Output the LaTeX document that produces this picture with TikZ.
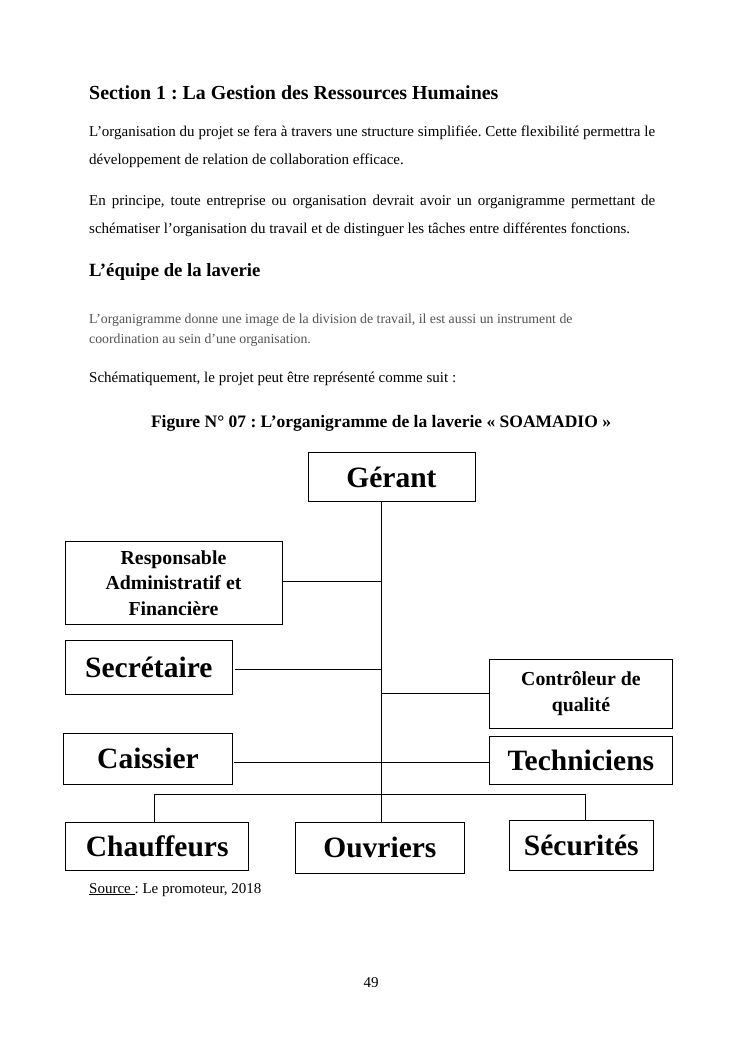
\documentclass[tikz,border=0pt]{standalone}
\usepackage{fontspec}
\setmainfont{Liberation Serif}
\frenchspacing
\begin{document}
\begin{tikzpicture}[x=1pt,y=-1pt,
  box/.style={draw, line width=0.9pt, inner sep=0pt, align=center,
    font=\bfseries\fontsize{29.5}{33}\selectfont},
  sbox/.style={box, font=\bfseries\fontsize{19.8}{25.5}\selectfont},
  conn/.style={line width=0.9pt},
  txt/.style={anchor=base west, inner sep=0pt},
  body/.style={txt, font=\fontsize{15}{18}\selectfont},
  graytxt/.style={txt, font=\fontsize{13.8}{16}\selectfont, text=black!68}]
\fill[white] (0,0) rectangle (745,1053);
\useasboundingbox (0,0) rectangle (745,1053);

% texts
\node[txt, font=\bfseries\fontsize{19.9}{24}\selectfont] (h1) at (89,99) {Section 1 : La Gestion des Ressources Humaines};
\node[body] (p1a) at (89,136) {\hbox to 566pt{L’organisation du projet se fera à travers une structure simplifiée. Cette flexibilité permettra le}};
\node[body] (p1b) at (89,164) {développement de relation de collaboration efficace.};
\node[body] (p2a) at (89,205) {\hbox to 566pt{En principe, toute entreprise ou organisation devrait avoir un organigramme permettant de}};
\node[body] (p2b) at (89,233) {schématiser l’organisation du travail et de distinguer les tâches entre différentes fonctions.};
\node[txt, font=\bfseries\fontsize{18.7}{22}\selectfont] (h2) at (89,276) {L’équipe de la laverie};
\node[graytxt] (g1) at (89,323) {L’organigramme donne une image de la division de travail, il est aussi un instrument de};
\node[graytxt] (g2) at (89,343) {coordination au sein d’une organisation.};
\node[body] (p3) at (89,382) {Schématiquement, le projet peut être représenté comme suit :};
\node[anchor=base, inner sep=0pt, font=\bfseries\fontsize{17.5}{21}\selectfont] (cap) at (381,427) {Figure N° 07 : L’organigramme de la laverie « SOAMADIO »};
\node[body] (src) at (89,893) {\underline{Source\ }: Le promoteur, 2018};
\node[anchor=base, inner sep=0pt, font=\fontsize{15}{18}\selectfont] (pg) at (371,987) {49};

% boxes
\node[box, minimum width=167, minimum height=49.5] (ger) at (391.5,477) {Gérant};
\node[sbox, minimum width=217, minimum height=82.6] (resp) at (173.5,583) {Responsable\\Administratif et\\Financière};
\node[box, minimum width=167.7, minimum height=53.3] (secr) at (148.8,667.3) {Secrétaire};
\node[sbox, minimum width=182.8, minimum height=69] (contr) at (580.9,693.8) {Contrôleur de\\qualité};
\node[box, minimum width=169.4, minimum height=50.7] (caiss) at (148,758.7) {Caissier};
\node[box, minimum width=182.8, minimum height=47.6] (tech) at (580.9,760.5) {Techniciens};
\node[box, minimum width=183, minimum height=47.7] (chauff) at (157.2,846.2) {Chauffeurs};
\node[box, minimum width=168.3, minimum height=51] (ouvr) at (379.9,847.8) {Ouvriers};
\node[box, minimum width=144, minimum height=50] (secu) at (581.3,845.3) {Sécurités};

% connectors
\coordinate (bus) at (381,794.3);
\coordinate (bl) at (154.7,794.3);
\coordinate (br) at (585.5,794.3);
\draw[conn] (ger.south -| bus) -- (ouvr.north -| bus);
\draw[conn] ([shift={(0,-1.3)}]resp.east) coordinate (r1) -- (r1 -| bus);
\draw[conn] ([shift={(1.6,2)}]secr.east) coordinate (s1) -- (s1 -| bus);
\draw[conn] (contr.west) -- (contr.west -| bus);
\draw[conn] ([shift={(1.3,3.6)}]caiss.east) coordinate (c1) -- (c1 -| tech.west);
\draw[conn] (chauff.north -| bl) -- (bl) -- (br) -- (secu.north -| br);
\end{tikzpicture}
\end{document}
